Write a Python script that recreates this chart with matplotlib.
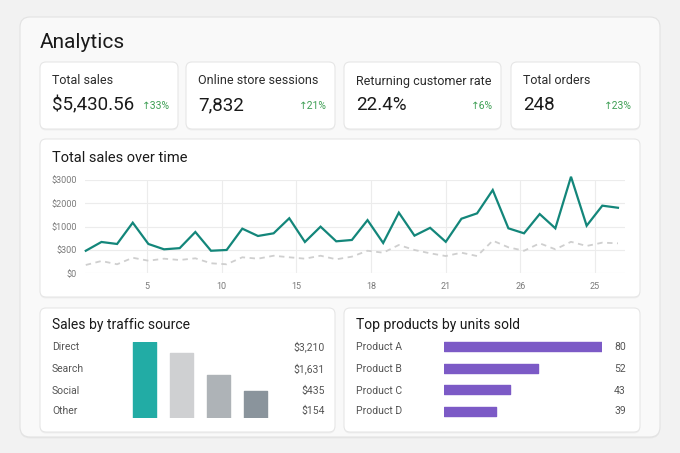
import numpy as np
import matplotlib.pyplot as plt
from matplotlib.patches import FancyBboxPatch

plt.rcParams['font.family'] = ['Roboto', 'DejaVu Sans']

W, H = 680, 453

# Stat cards
card_titles = ["Total sales", "Online store sessions", "Returning customer rate", "Total orders"]
card_values = ["$5,430.56", "7,832", "22.4%", "248"]
card_changes = ["33%", "21%", "6%", "23%"]

# Total sales over time (current period and previous period)
days = np.arange(1, 36)
sales = [290, 540, 480, 1170, 480, 320, 355, 840, 290, 300, 940,
         720, 800, 1360, 540, 1000, 560, 600, 1280, 510, 1600, 730, 965,
         545, 1340, 1570, 2570, 950, 800, 1540, 950, 3140, 1040, 1900, 1810]
prev_sales = [107, 158, 116, 200, 162, 188, 171, 193, 129, 116, 206,
              188, 226, 206, 188, 226, 180, 214, 290, 265, 450, 300, 257,
              222, 265, 222, 580, 380, 290, 500, 320, 545, 420, 520, 500]
y_ticks = [0, 300, 1000, 2000, 3000]
y_tick_labels = ["$0", "$300", "$1000", "$2000", "$3000"]
x_tick_labels = ["5", "10", "15", "18", "21", "26", "25"]

# Sales by traffic source
sources = ["Direct", "Search", "Social", "Other"]
source_sales = [3210, 1631, 435, 154]
source_labels = ["$3,210", "$1,631", "$435", "$154"]
source_colors = ["#22aca5", "#cfd0d2", "#aeb3b7", "#8a949c"]

# Top products by units sold
products = ["Product A", "Product B", "Product C", "Product D"]
units = [80, 52, 43, 39]


def px_axes(fig, x0, y0, x1, y1):
    """Add axes given in pixel coordinates measured from the top-left."""
    return fig.add_axes([x0 / W, 1 - y1 / H, (x1 - x0) / W, (y1 - y0) / H])


def card(bg, x0, y0, x1, y1, face="white", edge="#e6e6e6", r=6):
    # soft shadow then the card itself
    shadow = FancyBboxPatch((x0, y0 + 1.5), x1 - x0, y1 - y0,
                            boxstyle=f"round,pad=0,rounding_size={r}",
                            facecolor="#000000", alpha=0.04, edgecolor="none")
    bg.add_patch(shadow)
    box = FancyBboxPatch((x0, y0), x1 - x0, y1 - y0,
                         boxstyle=f"round,pad=0,rounding_size={r}",
                         facecolor=face, edgecolor=edge, linewidth=0.8)
    bg.add_patch(box)


fig = plt.figure(figsize=(W / 100, H / 100), dpi=100)
fig.patch.set_facecolor("#f2f2f2")

# Background axes in pixel units for cards and text
bg = fig.add_axes([0, 0, 1, 1])
bg.set_xlim(0, W)
bg.set_ylim(H, 0)
bg.axis("off")

card(bg, 20, 17, 660, 437, face="#f9f9f9", edge="#e2e2e2", r=10)
bg.text(40, 42, "Analytics", fontsize=15, color="#1a1a1a", va="center")

# Stat cards
card_x = [(40, 178), (186, 335), (344, 501), (511, 640)]
for (x0, x1), title, value, change in zip(card_x, card_titles, card_values, card_changes):
    card(bg, x0, 62, x1, 129)
    bg.text(x0 + 12, 81, title, fontsize=9, color="#2b2b2b", va="center")
    bg.text(x0 + 12, 105, value, fontsize=13.5, color="#1a1a1a", va="center")
    bg.text(x1 - 8, 106, "\u2191" + change, fontsize=7.5, color="#3f9f55",
            va="center", ha="right")

# Line chart card
card(bg, 40, 139, 640, 297)
bg.text(52, 158, "Total sales over time", fontsize=10.5, color="#1a1a1a", va="center")

ax = px_axes(fig, 85, 180, 625, 273.3)
ax.set_facecolor("none")
brk = np.array([0, 300, 1000, 2000, 3000, 4000])
pos = np.arange(len(brk))
ax.set_yscale("function", functions=(lambda v: np.interp(v, brk, pos),
                                     lambda u: np.interp(u, pos, brk)))
ax.plot(days, prev_sales, color="#cfcfcf", lw=1.3, ls=(0, (3, 2.5)), clip_on=False)
ax.plot(days, sales, color="#13867a", lw=1.6, clip_on=False, solid_joinstyle="miter")
ax.set_ylim(0, 3000)
ax.set_xlim(0.95, 35.45)
ax.set_yticks(y_ticks)
ax.set_yticklabels(y_tick_labels)
ax.set_xticks(np.linspace(4.92, 33.54, len(x_tick_labels)))
ax.set_xticklabels(x_tick_labels)
ax.tick_params(axis="y", length=0, labelsize=6.5, labelcolor="#7a7a7a", pad=6)
ax.tick_params(axis="x", length=0, labelsize=6.5, labelcolor="#7a7a7a", pad=6)
ax.grid(True, color="#ececec", lw=0.8)
for s in ax.spines.values():
    s.set_visible(False)

# Sales by traffic source card
card(bg, 40, 308, 335, 432)
bg.text(52, 325, "Sales by traffic source", fontsize=10, color="#1a1a1a", va="center")
row_y = [347, 369, 391, 411]
for y, name, lab in zip(row_y, sources, source_labels):
    bg.text(52, y, name, fontsize=7.5, color="#555555", va="center")
    bg.text(325, y, lab, fontsize=7.5, color="#555555", va="center", ha="right")

ax2 = px_axes(fig, 126, 342, 274, 418)
ax2.set_facecolor("none")
ax2.set_yscale("log")
bars = ax2.bar(range(len(sources)), source_sales, width=0.6, color=source_colors)
for b, c in zip(bars, source_colors):
    b.set_edgecolor(c)
    b.set_linewidth(1)
    b.set_joinstyle("round")
ax2.set_ylim(30, 3210)
ax2.set_xlim(-0.5, 3.5)
ax2.axis("off")

# Top products card
card(bg, 344, 308, 640, 432)
bg.text(356, 325, "Top products by units sold", fontsize=10, color="#1a1a1a", va="center")
for y, name, u in zip(row_y, products, units):
    bg.text(356, y, name, fontsize=7.5, color="#555555", va="center")
    bg.text(626, y, str(u), fontsize=7.5, color="#555555", va="center", ha="right")

ax3 = px_axes(fig, 444, 336.3, 602, 421.7)
ax3.set_facecolor("none")
ax3.set_xscale("log")
base = 27.4
hb = ax3.barh(range(len(products)), np.array(units) - base, left=base,
              height=0.42, color="#7c5ac6")
for b in hb:
    b.set_edgecolor("#7c5ac6")
    b.set_linewidth(1)
    b.set_joinstyle("round")
ax3.set_xlim(base, 80)
ax3.set_ylim(3.5, -0.5)
ax3.axis("off")

fig.savefig("out.png", dpi=100, facecolor=fig.get_facecolor())
